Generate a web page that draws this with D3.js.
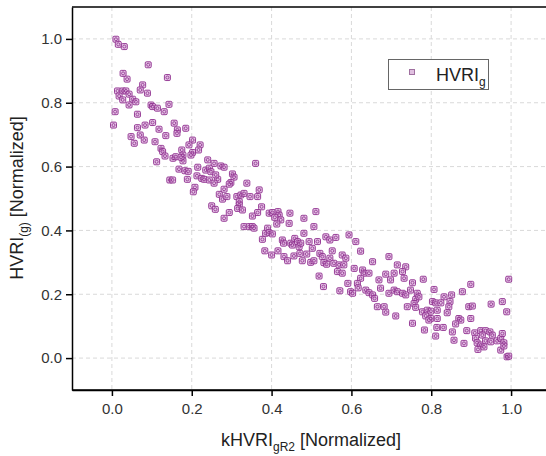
<!DOCTYPE html>
<html><head><meta charset="utf-8">
<script src="https://cdn.jsdelivr.net/npm/d3@7"></script>
<style>body{margin:0;background:#fff}svg{display:block}</style>
</head><body>
<svg id="c" width="546" height="456"></svg>
<script>
const xTicks=[0,0.2,0.4,0.6,0.8,1.0];
const yTicks=[0,0.2,0.4,0.6,0.8,1.0];
const seriesName="HVRI";
// kHVRI_gR2 (x) values
const xs=[
0.010,0.016,0.031,0.091,0.028,0.038,0.139,0.077,0.071,0.089,0.014,0.027,0.035,0.018,0.043,0.027,0.052,
0.043,0.060,0.098,0.102,0.114,0.131,0.143,0.008,0.064,0.004,0.083,0.102,0.156,0.064,0.118,0.164,0.185,0.163,0.048,0.071,0.081,0.135,0.056,0.108,0.202,0.193,0.221,0.217,
0.123,0.127,0.133,0.175,0.178,0.178,0.153,0.160,0.173,0.202,0.198,0.112,0.240,0.256,0.168,0.183,0.191,0.215,0.235,0.244,0.248,0.273,0.145,0.152,0.189,0.213,0.225,0.231,0.244,0.265,0.260,0.256,0.208,0.204,0.269,0.281,0.277,0.250,0.259,0.281,
0.281,0.360,0.302,0.306,0.298,0.294,0.338,0.288,0.313,0.323,0.331,0.346,0.365,0.369,0.319,0.319,0.315,0.327,0.294,0.375,0.365,0.352,0.394,0.402,0.416,0.419,0.446,0.423,0.408,0.413,0.444,0.481,0.511,0.506,0.331,0.344,0.352,0.356,0.390,
0.377,0.385,0.394,0.402,0.427,0.430,0.448,0.452,0.458,0.465,0.469,0.481,0.473,0.494,0.502,0.515,0.383,0.400,0.416,0.431,0.440,0.456,0.471,0.477,0.488,0.498,0.506,0.521,0.527,0.536,0.546,0.561,0.552,0.546,0.531,0.538,0.556,0.569,0.581,0.577,0.586,0.594,0.519,0.530,0.565,0.577,0.591,0.571,0.598,
0.611,0.623,0.653,0.607,0.628,0.632,0.623,0.644,0.615,0.617,0.603,0.694,0.715,0.707,0.686,0.669,0.673,0.698,0.636,0.644,0.653,0.658,0.665,0.682,0.694,0.707,0.715,0.686,0.711,
0.736,0.728,0.732,0.780,0.753,0.748,0.728,0.736,0.765,0.761,0.769,0.757,0.740,0.761,0.807,0.832,0.851,0.878,0.899,0.803,0.811,0.824,0.847,0.844,0.840,0.778,0.790,0.799,0.815,0.786,0.799,0.794,0.815,0.894,0.903,0.899,0.950,0.978,0.989,0.994,0.869,0.874,0.861,0.753,0.783,0.814,0.830,0.811,0.853,0.857,0.882,0.889,0.909,0.924,0.936,0.947,0.953,0.928,0.911,0.915,0.924,0.936,0.949,0.965,0.974,0.982,0.917,0.932,0.974,0.982,0.990,0.994,0.978
];
// HVRI_(g) (y) values
const ys=[
0.999,0.983,0.976,0.919,0.892,0.874,0.879,0.856,0.840,0.830,0.837,0.837,0.837,0.821,0.827,0.809,0.811,
0.793,0.803,0.793,0.788,0.783,0.772,0.795,0.772,0.764,0.730,0.730,0.738,0.736,0.722,0.717,0.715,0.720,0.704,0.694,0.699,0.683,0.697,0.673,0.678,0.683,0.668,0.668,0.652,
0.657,0.647,0.633,0.652,0.636,0.618,0.626,0.631,0.629,0.644,0.636,0.615,0.621,0.610,0.592,0.587,0.585,0.598,0.589,0.595,0.584,0.602,0.558,0.558,0.560,0.571,0.563,0.560,0.558,0.560,0.574,0.548,0.535,0.521,0.513,0.529,0.498,0.477,0.466,0.438,
0.598,0.610,0.577,0.567,0.550,0.545,0.548,0.506,0.506,0.511,0.516,0.506,0.506,0.527,0.490,0.480,0.469,0.464,0.456,0.474,0.456,0.445,0.454,0.456,0.459,0.448,0.454,0.433,0.441,0.420,0.422,0.438,0.459,0.412,0.412,0.412,0.412,0.407,0.407,
0.372,0.391,0.393,0.389,0.370,0.360,0.360,0.354,0.375,0.365,0.349,0.391,0.360,0.365,0.344,0.365,0.336,0.323,0.336,0.318,0.305,0.320,0.328,0.305,0.326,0.300,0.305,0.328,0.318,0.380,0.370,0.378,0.336,0.313,0.299,0.294,0.297,0.292,0.292,0.323,0.313,0.386,0.257,0.224,0.271,0.266,0.234,0.211,0.208,
0.365,0.335,0.302,0.281,0.276,0.266,0.250,0.266,0.234,0.220,0.203,0.318,0.292,0.266,0.263,0.245,0.219,0.245,0.213,0.205,0.198,0.187,0.161,0.161,0.203,0.213,0.208,0.144,0.132,
0.286,0.271,0.250,0.247,0.236,0.213,0.203,0.198,0.203,0.184,0.192,0.171,0.161,0.159,0.215,0.192,0.198,0.208,0.231,0.177,0.173,0.173,0.177,0.161,0.142,0.145,0.150,0.147,0.150,0.132,0.124,0.119,0.124,0.161,0.163,0.124,0.169,0.177,0.145,0.247,0.124,0.119,0.107,0.109,0.088,0.096,0.096,0.069,0.082,0.056,0.046,0.086,0.079,0.086,0.086,0.082,0.072,0.072,0.062,0.048,0.041,0.054,0.051,0.054,0.062,0.048,0.027,0.035,0.025,0.038,0.004,0.006,0.077
];

const svg=d3.select("#c");
const L=72,T=7,B=390;
const x=d3.scaleLinear().domain([-0.1,1.1]).range([L,551]);
const y=d3.scaleLinear().domain([-0.1,1.1]).range([B,T]);
const font="'Liberation Sans', Arial, sans-serif";

// grid
const g=svg.append("g");
g.selectAll(".vg").data(xTicks).join("line")
 .attr("x1",d=>x(d)).attr("x2",d=>x(d)).attr("y1",T).attr("y2",B)
 .attr("stroke","#d9d9d9").attr("stroke-dasharray","4,3").attr("stroke-width",1);
g.selectAll(".hg").data(yTicks).join("line")
 .attr("y1",d=>y(d)).attr("y2",d=>y(d)).attr("x1",L).attr("x2",546)
 .attr("stroke","#d9d9d9").attr("stroke-dasharray","4,3").attr("stroke-width",1);

// points
const pts=xs.map((v,i)=>[v,ys[i]]);
const pg=svg.append("g");
pg.selectAll("rect").data(pts).join("rect")
 .attr("x",d=>x(d[0])-3).attr("y",d=>y(d[1])-3).attr("width",6).attr("height",6)
 .attr("rx",1.2).attr("fill","#dcb0dc").attr("fill-opacity",0.75)
 .attr("stroke","#8e2f8e").attr("stroke-width",1).attr("stroke-opacity",0.9);
pg.selectAll("circle").data(pts).join("circle")
 .attr("cx",d=>x(d[0])).attr("cy",d=>y(d[1])).attr("r",1.5)
 .attr("fill","none").attr("stroke","#8e2f8e").attr("stroke-width",0.9).attr("stroke-opacity",0.9);

// axes
const xa=svg.append("g").attr("transform",`translate(0,${B})`)
 .call(d3.axisBottom(x).tickValues(xTicks).tickFormat(d3.format(".1f")).tickSize(6).tickSizeOuter(0));
const ya=svg.append("g").attr("transform",`translate(${L},0)`)
 .call(d3.axisLeft(y).tickValues(yTicks).tickFormat(d3.format(".1f")).tickSize(6).tickSizeOuter(0));
[xa,ya].forEach(a=>{
 a.select(".domain").attr("stroke","#000").attr("stroke-width",1.5);
 a.selectAll(".tick line").attr("stroke","#000").attr("stroke-width",1.5);
 a.selectAll(".tick text").attr("font-family",font).attr("font-size",15).attr("fill","#333");
});
xa.selectAll(".tick text").attr("dy","1.0em");
ya.selectAll(".tick text").attr("x",-10);
svg.append("line").attr("x1",L).attr("x2",546).attr("y1",B).attr("y2",B).attr("stroke","#000").attr("stroke-width",1.5);
svg.append("line").attr("x1",L).attr("x2",546).attr("y1",T).attr("y2",T).attr("stroke","#000").attr("stroke-width",1.5);

// axis titles
const xt=svg.append("text").attr("x",311).attr("y",446).attr("text-anchor","middle")
 .attr("font-family",font).attr("font-size",18).attr("fill","#222");
xt.append("tspan").text("kHVRI");
xt.append("tspan").attr("font-size",12).attr("dy",5).text("gR2");
xt.append("tspan").attr("dy",-5).text(" [Normalized]");

const yt=svg.append("text").attr("transform","translate(23,198) rotate(-90)").attr("text-anchor","middle")
 .attr("font-family",font).attr("font-size",18).attr("fill","#222");
yt.append("tspan").text("HVRI");
yt.append("tspan").attr("font-size",12).attr("dy",5).text("(g)");
yt.append("tspan").attr("dy",-5).text(" [Normalized]");

// legend
const lg=svg.append("g");
lg.append("rect").attr("x",388.5).attr("y",59.5).attr("width",100).attr("height",30)
 .attr("fill","#fff").attr("stroke","#666").attr("stroke-width",1);
lg.append("rect").attr("x",409.5).attr("y",69.5).attr("width",5).attr("height",5)
 .attr("fill","#e0c0e0").attr("stroke","#a070a0").attr("stroke-width",1);
const lt=lg.append("text").attr("x",436).attr("y",81).attr("font-family",font).attr("font-size",18).attr("fill","#222");
lt.append("tspan").text(seriesName);
lt.append("tspan").attr("font-size",12).attr("dy",5).text("g");
</script>
</body></html>
